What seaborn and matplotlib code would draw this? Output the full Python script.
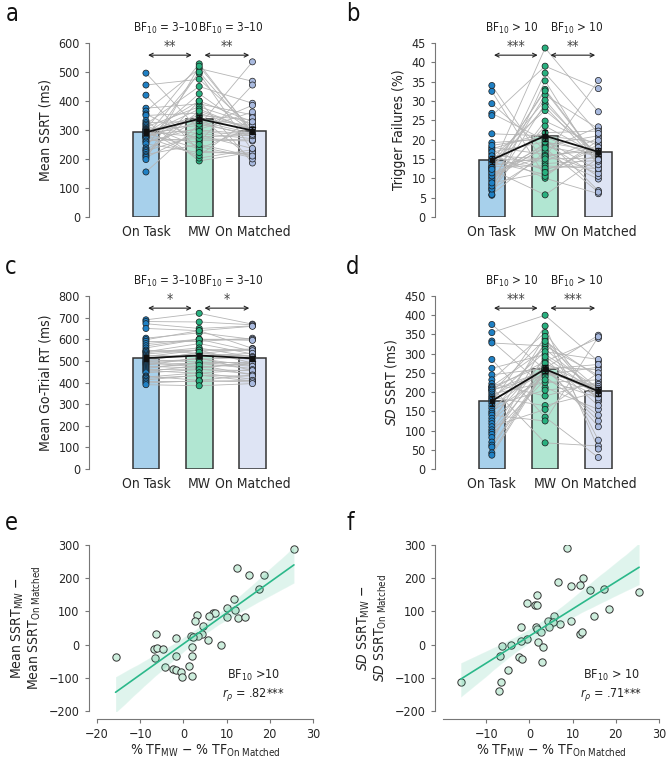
import numpy as np
import pandas as pd
import matplotlib
matplotlib.use('Agg')
import matplotlib.pyplot as plt
import seaborn as sns

conditions = ['On Task', 'MW', 'On Matched']
bar_colors = ['#a7d0eb', '#b1e6d2', '#dee4f4']
dot_colors = ['#1f80c4', '#28b07f', '#a9badf']

# a: mean SSRT (ms), one value per participant
ssrt_on_task = [496, 455, 420, 375, 365, 355, 350, 332, 325, 320, 315, 310, 305, 302, 300, 298, 295, 293, 290, 288,
                285, 282, 278, 275, 280, 275, 272, 268, 262, 258, 252, 238, 232, 228, 222, 215, 210, 205, 198, 155]
ssrt_mw = [300, 475, 228, 390, 512, 265, 358, 193, 330, 450, 242, 380, 288, 528, 315, 203, 350, 276, 400, 235,
           372, 302, 495, 258, 326, 212, 345, 425, 270, 308, 222, 500, 338, 282, 365, 250, 400, 295, 520, 320]
ssrt_on_matched = [285, 306, 215, 352, 468, 262, 300, 224, 288, 392, 205, 320, 270, 290, 535, 232, 335, 282, 186, 310,
                   298, 362, 228, 455, 278, 342, 200, 295, 265, 385, 220, 288, 315, 236, 302, 210, 328, 280, 292, 285]

# b: trigger failures (%)
tf_on_task = [15.4, 26.8, 9.3, 18.0, 6.8, 12.6, 34.0, 11.0, 16.3, 7.5, 21.5, 13.3, 5.6, 17.2, 10.2, 29.3, 12.2, 8.4, 15.0, 19.2,
              11.8, 14.2, 5.8, 26.2, 9.8, 13.0, 17.6, 7.2, 12.8, 32.5, 10.6, 16.8, 8.0, 14.6, 18.5, 11.4, 13.8, 8.8, 15.8, 12.3]
tf_mw = [27.5, 19.8, 31.5, 16.2, 24.8, 43.7, 13.8, 18.6, 10.0, 29.3, 21.0, 15.4, 35.2, 12.0, 19.0, 17.3, 5.7, 23.5, 14.4, 20.2,
         33.0, 11.0, 16.8, 39.0, 18.2, 13.2, 21.8, 15.9, 28.5, 10.5, 17.8, 19.4, 37.2, 12.6, 20.6, 15.6, 30.2, 11.5, 15.0, 32.6]
tf_on_matched = [16.4, 12.0, 22.8, 9.8, 18.4, 27.2, 14.6, 21.0, 6.0, 15.5, 19.3, 35.3, 13.0, 17.6, 10.5, 23.3, 15.2, 16.0, 20.4, 6.8,
                 14.9, 18.8, 11.2, 33.2, 15.8, 12.5, 22.2, 17.2, 14.0, 19.8, 6.4, 16.8, 21.6, 13.5, 15.6, 18.0, 14.4, 16.0, 15.2, 14.8]

# c: mean go-trial RT (ms)
rt_on_task = [690, 682, 672, 650, 605, 598, 590, 580, 570, 560, 550, 542, 545, 538, 532, 526, 520, 515, 510, 505,
              500, 496, 492, 488, 484, 480, 475, 470, 465, 460, 455, 450, 445, 430, 425, 420, 412, 405, 398, 390]
rt_mw = [720, 680, 650, 640, 630, 640, 590, 600, 600, 600, 535, 580, 550, 560, 550, 520, 550, 523, 534, 495,
         540, 508, 472, 510, 490, 515, 467, 488, 493, 462, 443, 480, 460, 410, 445, 432, 434, 405, 408, 385]
rt_on_matched = [670, 667, 662, 660, 600, 558, 605, 600, 545, 595, 555, 532, 555, 518, 547, 526, 490, 535, 520, 490,
                 505, 516, 487, 478, 494, 455, 490, 465, 475, 440, 460, 435, 455, 435, 415, 430, 407, 410, 403, 395]

# d: SD of SSRT (ms)
sd_on_task = [376, 355, 333, 328, 285, 262, 245, 232, 222, 214, 205, 215, 212, 208, 205, 200, 195, 190, 186, 182,
              178, 172, 165, 158, 150, 145, 140, 132, 125, 118, 110, 102, 96, 90, 82, 70, 62, 57, 42, 36]
sd_mw = [258, 400, 212, 320, 135, 298, 262, 355, 190, 270, 245, 312, 68, 280, 256, 338, 225, 262, 165, 305,
         250, 372, 205, 266, 240, 326, 125, 286, 254, 345, 155, 292, 260, 232, 275, 332, 258, 252, 260, 255]
sd_on_matched = [203, 280, 155, 244, 30, 210, 348, 175, 226, 110, 265, 198, 60, 340, 205, 180, 232, 125, 200, 285,
                 190, 52, 220, 258, 140, 208, 344, 165, 215, 75, 250, 195, 272, 185, 206, 238, 200, 210, 197, 203]

# e / f: difference scores MW - On Matched
e_tf_diff = [-15.7, 25.6, 12.3, 15.1, 18.6, 17.5, 11.7, 10.0, 12.0, 10.0, 12.7, 14.3, 6.9, 7.3, 5.9, 3.2, 2.8, 4.6, 4.4, 5.6,
             3.5, 1.8, 2.3, 8.8, 2.0, -1.6, -6.4, -6.9, -6.2, -4.7, -6.6, -4.2, -1.8, -2.3, -1.8, -0.5, -0.4, 1.3, 1.9, 1.9]
e_ssrt_diff = [-37, 288, 232, 209, 211, 169, 137, 110, 105, 82, 81, 82, 94, 94, 85, 88, 71, 55, 33, 13,
               26, 25, 23, 0, -7, 21, 31, -12, -10, -12, -40, -68, -34, -74, -76, -81, -98, -63, -95, -34]
f_tf_diff = [-15.9, 25.4, 8.7, 6.7, 12.5, 11.6, 9.7, 14.0, 17.3, 18.4, 15.0, 9.7, 7.1, 5.7, 4.3, 5.5, 4.5, 11.6, 12.2, 1.7,
             1.2, 1.7, -0.5, 1.6, 1.8, 2.7, -0.6, -1.9, -1.9, 2.1, 3.2, 3.0, -4.3, -6.3, -6.7, -2.4, -1.8, -4.9, -6.6, -7.0]
f_sd_diff = [-114, 157, 290, 190, 201, 181, 177, 166, 167, 106, 85, 70, 62, 85, 72, 69, 54, 33, 37, 148,
             118, 118, 126, 53, 48, 38, 16, 52, 11, 9, -6, -51, 0, -5, -33, -38, -42, -76, -113, -140]

sns.set_style('ticks')
plt.rcParams['font.family'] = ['DejaVu Sans']
plt.rcParams['font.stretch'] = 'condensed'
plt.rcParams['mathtext.fontset'] = 'custom'
plt.rcParams['mathtext.rm'] = 'DejaVu Sans:stretch=condensed'
plt.rcParams['mathtext.it'] = 'DejaVu Sans:style=oblique:stretch=condensed'
plt.rcParams['mathtext.bf'] = 'DejaVu Sans:weight=bold:stretch=condensed'
plt.rcParams['text.color'] = '#222222'
plt.rcParams['axes.labelcolor'] = '#222222'

fig = plt.figure(figsize=(6.67, 7.61), dpi=100)
ax_a = fig.add_axes([0.1334, 0.715, 0.289, 0.2285])
ax_b = fig.add_axes([0.652, 0.715, 0.289, 0.2285])
ax_c = fig.add_axes([0.1334, 0.3837, 0.289, 0.2273])
ax_d = fig.add_axes([0.652, 0.3837, 0.289, 0.2273])
ax_e = fig.add_axes([0.1454, 0.0657, 0.3238, 0.2181])
ax_f = fig.add_axes([0.6642, 0.0657, 0.3238, 0.2181])


def bar_panel(ax, on_task, mw, on_matched, ylabel, ymax, ystep, bf, stars):
    n = len(on_task)
    df = pd.DataFrame({'subj': np.tile(np.arange(n), 3),
                       'cond': np.repeat(conditions, n),
                       'val': np.concatenate([on_task, mw, on_matched])})
    df['pos'] = df['cond'].map({c: i for i, c in enumerate(conditions)})

    sns.barplot(data=df, x='cond', y='val', hue='cond', palette=bar_colors, saturation=1,
                errorbar=None, width=0.5, edgecolor='#333333', linewidth=1.1, legend=False, ax=ax)
    sns.lineplot(data=df, x='pos', y='val', units='subj', estimator=None, color='#b5b5b5',
                 linewidth=0.6, ax=ax, zorder=2)
    sns.stripplot(data=df, x='cond', y='val', hue='cond', palette=dot_colors, jitter=False,
                  size=4.4, edgecolor='#1a1a1a', linewidth=0.5, legend=False, ax=ax, zorder=3)
    sns.pointplot(data=df, x='cond', y='val', color='#111111', markers='s', markersize=3.5,
                  linewidth=1.3, errorbar='se', capsize=0.08, err_kws={'linewidth': 1}, ax=ax, zorder=4)

    ax.set_xlim(-1.07, 2.55)
    ax.set_ylim(0, ymax)
    ax.set_yticks(np.arange(0, ymax + ystep / 2, ystep))
    ax.set_xticks([0, 1, 2], conditions)
    ax.set_xlabel('')
    ax.set_ylabel(ylabel, fontsize=10)
    for s in ['top', 'right', 'bottom']:
        ax.spines[s].set_visible(False)
    ax.spines['left'].set_color('#777777')
    ax.spines['left'].set_linewidth(0.8)
    ax.tick_params(axis='x', length=0, pad=6, labelsize=10)
    ax.tick_params(axis='y', length=3, width=0.8, color='#777777', labelsize=9)

    tr = ax.get_xaxis_transform()
    for (x0, x1), xt, xb, b, s in zip([(0.04, 0.86), (1.1, 1.94)], [0.45, 1.52], [0.37, 1.60], bf, stars):
        ax.annotate('', xy=(x0, 0.93), xytext=(x1, 0.93), xycoords=tr, textcoords=tr,
                    arrowprops=dict(arrowstyle='<->', color='#222222', lw=0.8,
                                    shrinkA=0, shrinkB=0, mutation_scale=7))
        ax.text(xt, 0.985, s, transform=tr, ha='center', va='center', fontsize=10, color='#444444')
        ax.text(xb, 1.085, b, transform=tr, ha='center', va='center', fontsize=8.5)


bf_mid = r'BF$_{\mathregular{10}}$ = 3–10'
bf_big = r'BF$_{\mathregular{10}}$ > 10'
bar_panel(ax_a, ssrt_on_task, ssrt_mw, ssrt_on_matched, 'Mean SSRT (ms)', 600, 100,
          [bf_mid, bf_mid], ['**', '**'])
bar_panel(ax_b, tf_on_task, tf_mw, tf_on_matched, 'Trigger Failures (%)', 45, 5,
          [bf_big, bf_big], ['***', '**'])
bar_panel(ax_c, rt_on_task, rt_mw, rt_on_matched, 'Mean Go-Trial RT (ms)', 800, 100,
          [bf_mid, bf_mid], ['*', '*'])
bar_panel(ax_d, sd_on_task, sd_mw, sd_on_matched, r'$\mathit{SD}$ SSRT (ms)', 450, 50,
          [bf_big, bf_big], ['***', '***'])


def scatter_panel(ax, x, y, ylabel, xticks, bf, r_text):
    sns.regplot(x=np.array(x), y=np.array(y), ax=ax, color='#2bb88a', seed=1,
                scatter_kws={'facecolor': '#cdeedd', 'edgecolor': '#333333', 's': 28, 'linewidths': 0.7, 'alpha': 1},
                line_kws={'linewidth': 1.2})
    ax.set_xlim(-20, 30)
    ax.set_ylim(-200, 300)
    ax.set_xticks(xticks)
    ax.set_yticks(np.arange(-200, 301, 100))
    sns.despine(ax=ax, offset=6)
    for s in ['left', 'bottom']:
        ax.spines[s].set_color('#777777')
        ax.spines[s].set_linewidth(0.8)
    ax.tick_params(length=3, width=0.8, color='#777777', labelsize=9)
    ax.set_ylabel(ylabel, fontsize=10, linespacing=1.1)
    ax.set_xlabel(r'% TF$_{\mathregular{MW}}$ − % TF$_{\mathregular{On\ Matched}}$', fontsize=10, labelpad=1)
    ax.text(bf[0], -93, bf[1], ha='center', va='center', fontsize=9)
    ax.text(bf[0], -150, r_text, ha='center', va='center', fontsize=9)


scatter_panel(ax_e, e_tf_diff, e_ssrt_diff,
              'Mean SSRT$_{\\mathregular{MW}}$ −\nMean SSRT$_{\\mathregular{On\\ Matched}}$',
              [-20, -10, 0, 10, 20, 30], (16.2, r'BF$_{\mathregular{10}}$ >10'),
              r'$\mathit{r}_{\rho}$ = .82***')
scatter_panel(ax_f, f_tf_diff, f_sd_diff,
              '$\\mathit{SD}$ SSRT$_{\\mathregular{MW}}$ −\n$\\mathit{SD}$ SSRT$_{\\mathregular{On\\ Matched}}$',
              [-10, 0, 10, 20, 30], (18.9, r'BF$_{\mathregular{10}}$ > 10'),
              r'$\mathit{r}_{\rho}$ = .71***')

for letter, x, y in [('a', 0.008, 0.981), ('b', 0.519, 0.981), ('c', 0.008, 0.649),
                     ('d', 0.519, 0.649), ('e', 0.008, 0.313), ('f', 0.519, 0.313)]:
    fig.text(x, y, letter, fontsize=17, va='center', ha='left', color='#111111')

fig.savefig('out.png', dpi=100)
